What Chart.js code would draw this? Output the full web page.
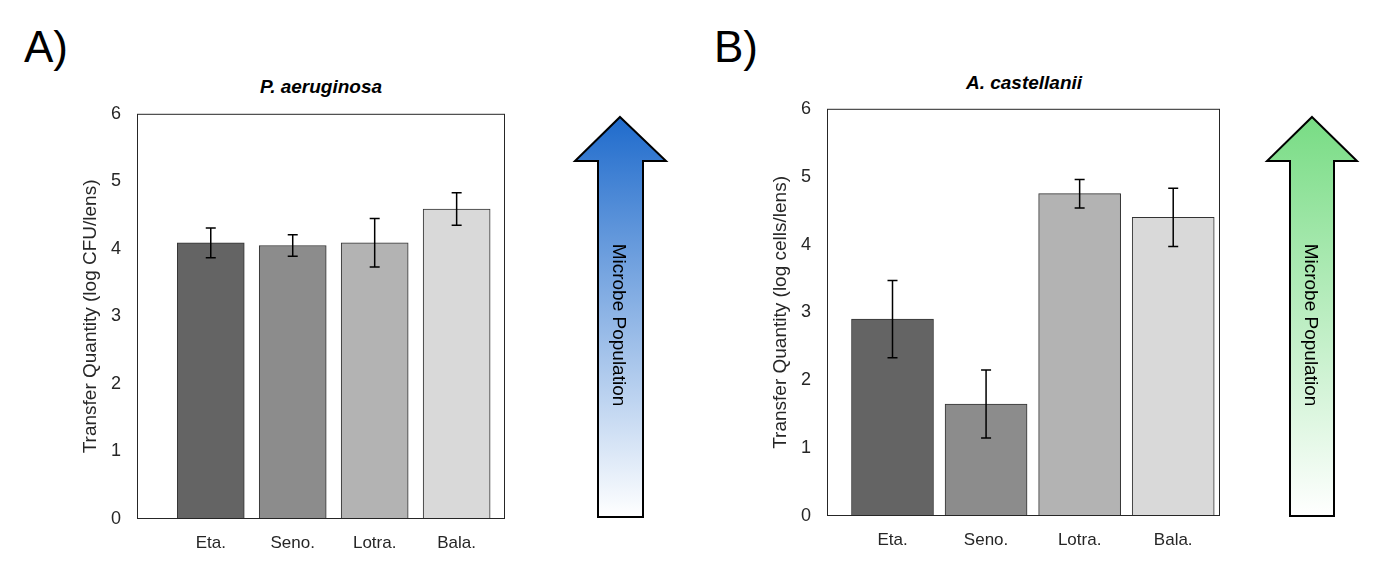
<!DOCTYPE html>
<html lang="en">
<head>
<meta charset="UTF-8">
<title>Transfer Quantity</title>
<script src="https://cdn.jsdelivr.net/npm/chart.js@4.4.1/dist/chart.umd.min.js"></script>
<style>
  body { margin: 0; background: #fff; font-family: Arial, "Liberation Sans", sans-serif; }
  #page { position: relative; width: 1378px; height: 574px; }
  .wrap { position: absolute; }
  .lbl { position: absolute; font-size: 44px; color: #000; }
  .ttl { position: absolute; font-size: 19px; font-weight: bold; font-style: italic; color: #000; text-align: center; }
  svg { position: absolute; left: 0; top: 0; }
</style>
</head>
<body>
<div id="page">
  <div class="lbl" style="left:24px;top:22px;">A)</div>
  <div class="lbl" style="left:714px;top:22px;">B)</div>
  <div class="ttl" style="left:137px;width:368px;top:76px;">P. aeruginosa</div>
  <div class="ttl" style="left:828px;width:392px;top:72px;">A. castellanii</div>
  <div class="wrap" style="left:77px;top:95px;width:438px;height:460px;"><canvas id="chartA"></canvas></div>
  <div class="wrap" style="left:767px;top:90px;width:463px;height:462px;"><canvas id="chartB"></canvas></div>
  <svg width="1378" height="574">
    <defs>
      <linearGradient id="gBlue" x1="0" y1="0" x2="0" y2="1">
        <stop offset="0" stop-color="#1f6bcc"/>
        <stop offset="1" stop-color="#ffffff"/>
      </linearGradient>
      <linearGradient id="gGreen" x1="0" y1="0" x2="0" y2="1">
        <stop offset="0" stop-color="#78dc84"/>
        <stop offset="1" stop-color="#ffffff"/>
      </linearGradient>
    </defs>
    <polygon points="620,117 666,161 643,161 643,517 598,517 598,161 575,161" fill="url(#gBlue)" stroke="#000" stroke-width="2"/>
    <text transform="translate(613,325) rotate(90)" text-anchor="middle" font-size="19" font-family="Arial, Liberation Sans, sans-serif">Microbe Population</text>
    <polygon points="1312,117 1357,161 1334,161 1334,516 1290,516 1290,161 1267,161" fill="url(#gGreen)" stroke="#000" stroke-width="2"/>
    <text transform="translate(1305,325) rotate(90)" text-anchor="middle" font-size="19" font-family="Arial, Liberation Sans, sans-serif">Microbe Population</text>
  </svg>
</div>
<script>
const categories = ["Eta.", "Seno.", "Lotra.", "Bala."];
const positions = [1, 2, 3, 4];
const barColors = ["#646464", "#8c8c8c", "#b3b3b3", "#d9d9d9"];

// panel A: P. aeruginosa
const meanA = [4.09, 4.05, 4.09, 4.59];
const errA = [0.22, 0.16, 0.36, 0.24];
// panel B: A. castellanii
const meanB = [2.90, 1.65, 4.75, 4.40];
const errB = [0.57, 0.50, 0.21, 0.43];
const yTicks = [0, 1, 2, 3, 4, 5, 6];

// error bars + box border
const extras = {
  id: "extras",
  afterDatasetsDraw(chart, args, opts) {
    const ctx = chart.ctx;
    const y = chart.scales.y;
    const meta = chart.getDatasetMeta(0);
    ctx.save();
    ctx.strokeStyle = "#000";
    ctx.lineWidth = 1.5;
    meta.data.forEach((bar, i) => {
      const m = opts.mean[i], e = opts.err[i];
      const yt = y.getPixelForValue(m + e), yb = y.getPixelForValue(m - e);
      ctx.beginPath();
      ctx.moveTo(bar.x, yt); ctx.lineTo(bar.x, yb);
      ctx.moveTo(bar.x - 5, yt); ctx.lineTo(bar.x + 5, yt);
      ctx.moveTo(bar.x - 5, yb); ctx.lineTo(bar.x + 5, yb);
      ctx.stroke();
    });
    const a = chart.chartArea;
    ctx.strokeStyle = "#262626";
    ctx.lineWidth = 1;
    ctx.strokeRect(a.left + 0.5, a.top + 0.5, a.right - a.left - 1, a.bottom - a.top - 1);
    ctx.restore();
  }
};

function makeChart(id, mean, err, yTitle, xMin, xMax, thick) {
  return new Chart(document.getElementById(id), {
    type: "bar",
    data: {
      datasets: [{
        data: positions.map((p, i) => ({ x: p, y: mean[i] })),
        backgroundColor: barColors,
        borderColor: "#333",
        borderWidth: 1,
        barThickness: thick
      }]
    },
    options: {
      responsive: true,
      maintainAspectRatio: false,
      animation: false,
      layout: { padding: { top: 10, right: 10 } },
      plugins: {
        legend: { display: false },
        tooltip: { enabled: false },
        extras: { mean: mean, err: err }
      },
      scales: {
        x: {
          type: "linear",
          min: xMin, max: xMax,
          offset: false,
          afterBuildTicks(s) { s.ticks = positions.map(v => ({ value: v })); },
          grid: { display: false },
          border: { display: false },
          ticks: {
            color: "#262626", font: { size: 17, family: "Arial, Liberation Sans" }, padding: 6,
            callback: v => categories[positions.indexOf(v)]
          },
          afterFit(s) { s.height = 36; }
        },
        y: {
          min: 0, max: 6,
          afterBuildTicks(s) { s.ticks = yTicks.map(v => ({ value: v })); },
          grid: { display: false },
          border: { display: false },
          ticks: { color: "#262626", font: { size: 18, family: "Arial, Liberation Sans" }, padding: 8 },
          title: { display: true, text: yTitle, color: "#262626", font: { size: 19, family: "Arial, Liberation Sans" }, padding: 2 },
          afterFit(s) { s.width = 60; }
        }
      }
    },
    plugins: [extras]
  });
}

makeChart("chartA", meanA, errA, "Transfer Quantity (log CFU/lens)", 0.1, 4.59, 67);
makeChart("chartB", meanB, errB, "Transfer Quantity (log cells/lens)", 0.3, 4.5, 82);
</script>
</body>
</html>
